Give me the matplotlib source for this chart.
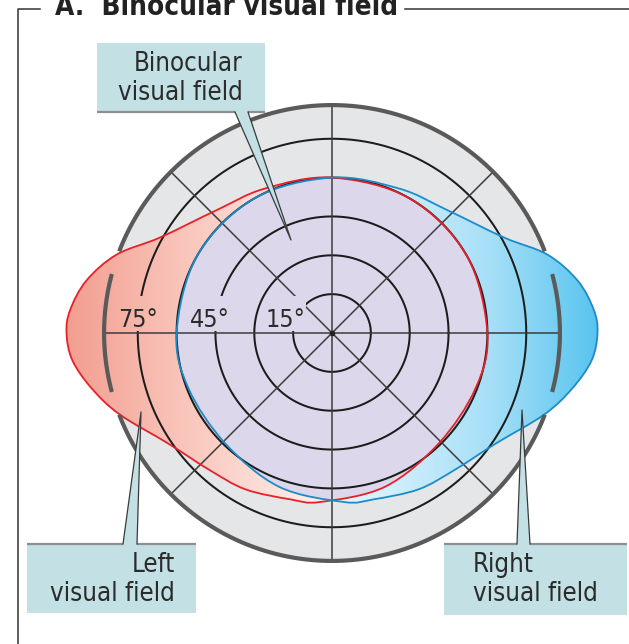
import numpy as np
import matplotlib
matplotlib.use("Agg")
import matplotlib.pyplot as plt
from matplotlib.path import Path
from matplotlib.patches import PathPatch, Circle, Rectangle, Polygon
from matplotlib.colors import LinearSegmentedColormap

# ---------------- data (degrees of visual angle) ----------------
ring_degrees = [15, 30, 45, 60, 75]
ring_labels = ["15°", "45°", "75°"]
labelled_rings = [15, 45, 75]
meridians = [0, 45, 90, 135]
perimeter_deg = 88
# left visual field boundary: meridian angle (deg, 0 = right, ccw) and eccentricity (deg)
left_field_angle = [0, 30, 60, 90, 115, 133, 151, 160, 168, 175, 180, 186, 193,
                    201, 214, 228, 241, 256, 266, 289, 314, 339]
left_field_ecc = [60, 60, 60, 60, 61.5, 65, 76, 88.5, 97, 101.5, 102.5, 100.8, 95.2,
                  87.8, 76.3, 71, 69, 66.2, 65.4, 62.8, 59.3, 59.4]
# right visual field is the mirror image
right_field_angle = [180 - a for a in left_field_angle]
right_field_ecc = list(left_field_ecc)
# perimeter rim arcs (deg)
rim_arcs = [(21, 159), (165, 195), (201, 339), (-15, 15)]

title = "A.  Binocular visual field"
box_binocular = ["Binocular", "visual field"]
box_left = ["Left", "visual field"]
box_right = ["Right", "visual field"]

# ---------------- layout ----------------
W, H = 629, 644
CX, CY = 332, 333
S = 2.59  # px per degree

FONT = ["DejaVu Sans"]
STRETCH = "condensed"
TXT = "#2b2b2b"
TEAL = "#c3e0e5"

fig = plt.figure(figsize=(W / 100, H / 100), dpi=100)
ax = fig.add_axes([0, 0, 1, 1])
ax.set_xlim(0, W)
ax.set_ylim(H, 0)
ax.axis("off")


def pol(theta_deg, r_deg):
    t = np.radians(np.asarray(theta_deg, float))
    r = np.asarray(r_deg, float) * S
    return CX + r * np.cos(t), CY - r * np.sin(t)


def closed_spline_path(xs, ys):
    P = np.column_stack([xs, ys])
    n = len(P)
    verts = [P[0]]
    codes = [Path.MOVETO]
    for i in range(n):
        p0, p1, p2, p3 = P[i - 1], P[i], P[(i + 1) % n], P[(i + 2) % n]
        c1 = p1 + (p2 - p0) / 6.0
        c2 = p2 - (p3 - p1) / 6.0
        verts += [c1, c2, p2]
        codes += [Path.CURVE4] * 3
    verts.append(P[0])
    codes.append(Path.CLOSEPOLY)
    return Path(np.array(verts), codes)


# grey perimeter disc
R = perimeter_deg * S
ax.add_patch(Circle((CX, CY), R, facecolor="#e5e6e8", edgecolor="none", zorder=1))
for a0, a1 in rim_arcs:
    th = np.linspace(a0, a1, 120)
    x, y = pol(th, np.full_like(th, perimeter_deg))
    ax.plot(x, y, color="#5a5a5a", lw=3.0, solid_capstyle="butt", zorder=6.5)

# fields
lx, ly = pol(left_field_angle, left_field_ecc)
rx, ry = pol(right_field_angle, right_field_ecc)
lpath = closed_spline_path(lx, ly)
rpath = closed_spline_path(rx, ry)

lclip = PathPatch(lpath, transform=ax.transData, facecolor="none", edgecolor="none")
rclip = PathPatch(rpath, transform=ax.transData, facecolor="none", edgecolor="none")

grad = np.linspace(0, 1, 256)[None, :]
lcmap = LinearSegmentedColormap.from_list(
    "l", [(0, "#f29e90"), (0.4, "#f9c2b7"), (1.0, "#fff4f1")])
rcmap = LinearSegmentedColormap.from_list(
    "r", [(0, "#eaf8fe"), (0.6, "#a6dff7"), (1.0, "#58c4ef")])
lx0 = lx.min()
im = ax.imshow(grad, extent=(lx0, CX, 0, H), cmap=lcmap, aspect="auto",
               interpolation="bilinear", zorder=3)
im.set_clip_path(lclip)
im2 = ax.imshow(grad, extent=(CX, rx.max(), 0, H), cmap=rcmap, aspect="auto",
                interpolation="bilinear", zorder=3)
im2.set_clip_path(rclip)
ax.set_xlim(0, W)
ax.set_ylim(H, 0)

lav = PathPatch(lpath, facecolor="#dcd7ea", edgecolor="none", zorder=4)
ax.add_patch(lav)
lav.set_clip_path(PathPatch(rpath, transform=ax.transData))

# knockout region for the degree labels
label_cx = [286, 210, 138]
label_w = [40, 38, 42]
outer = [(0, 0), (W, 0), (W, H), (0, H), (0, 0)]
verts = list(outer)
codes = [Path.MOVETO] + [Path.LINETO] * 3 + [Path.CLOSEPOLY]
for cxl, wl in zip(label_cx, label_w):
    x0, x1, y0, y1 = cxl - wl / 2, cxl + wl / 2, 296, 331
    verts += [(x0, y0), (x0, y1), (x1, y1), (x1, y0), (x0, y0)]
    codes += [Path.MOVETO] + [Path.LINETO] * 3 + [Path.CLOSEPOLY]
knock = PathPatch(Path(verts, codes), transform=ax.transData)

# grid rings
th = np.linspace(0, 360, 720)
for rd in ring_degrees:
    x, y = pol(th, np.full_like(th, rd))
    ln, = ax.plot(x, y, color="#1c1c1c", lw=1.45, zorder=5)
    ln.set_clip_path(knock)
# meridians
for m in meridians:
    x, y = pol([m, m + 180], [perimeter_deg - 0.8, perimeter_deg - 0.8])
    ln, = ax.plot(x, y, color="#3c3c3c", lw=1.1, zorder=5)
    ln.set_clip_path(knock)
ax.plot([CX], [CY], marker="o", ms=3, color="#222", zorder=5)

# outlines
ax.add_patch(PathPatch(lpath, facecolor="none", edgecolor="#e62129", lw=1.3, zorder=6))
ax.add_patch(PathPatch(rpath, facecolor="none", edgecolor="#1b8bc9", lw=1.3, zorder=6))

# degree labels
for txt, cxl in zip(ring_labels, label_cx):
    ax.text(cxl, 327, txt, ha="center", va="baseline", fontsize=18,
            family=FONT, fontstretch=STRETCH, color=TXT, zorder=7)


# callout boxes
def callout(x0, y0, x1, y1, edge_y, base, tip, lines, align, tx, ty):
    ax.add_patch(Rectangle((x0, y0), x1 - x0, y1 - y0, facecolor=TEAL,
                           edgecolor="none", zorder=8))
    ax.plot([x0, base[0]], [edge_y, edge_y], color="#8e8e8e", lw=1.6, zorder=9,
            solid_capstyle="butt")
    ax.plot([base[1], x1], [edge_y, edge_y], color="#8e8e8e", lw=1.6, zorder=9,
            solid_capstyle="butt")
    ax.add_patch(Polygon([(base[0], edge_y), tip, (base[1], edge_y)], closed=True,
                         facecolor=TEAL, edgecolor="none", zorder=8))
    ax.plot([base[0], tip[0], base[1]], [edge_y, tip[1], edge_y], color="#3a3a3a",
            lw=0.9, zorder=9)
    for i, s in enumerate(lines):
        ax.text(tx, ty + 29 * i, s, ha=align, va="baseline", fontsize=18.5,
                family=FONT, fontstretch=STRETCH, color=TXT, zorder=10)


callout(97, 43, 265, 112, 112, (235, 248), (291, 240), box_binocular, "right", 243, 71)
callout(27, 544, 196, 613, 544, (123, 137), (141, 412), box_left, "right", 175, 572)
callout(444, 544, 627, 615, 544, (517, 530), (522, 410), box_right, "left", 473, 572)

# frame and title
ax.plot([40, 18, 18], [9, 9, H + 5], color="#333", lw=1.1, zorder=10, clip_on=False)
ax.plot([405, W + 5], [9, 9], color="#333", lw=1.1, zorder=10, clip_on=False)
ax.text(55, 15, title, ha="left", va="baseline", fontsize=20, fontweight="bold",
        family=FONT, fontstretch=STRETCH, color="#222", zorder=10)

fig.savefig("out.png", dpi=100)
